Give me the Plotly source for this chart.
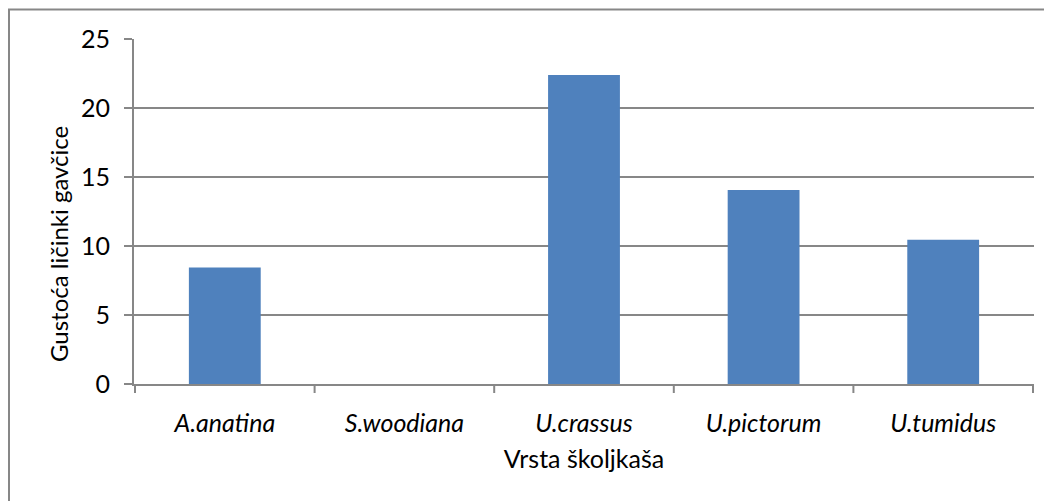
import plotly.graph_objects as go

species = ["A.anatina", "S.woodiana", "U.crassus", "U.pictorum", "U.tumidus"]
density = [8.45, 0, 22.4, 14.05, 10.45]
y_ticks = [0, 5, 10, 15, 20, 25]

FONT = "Lato, 'Open Sans', sans-serif"
GRID = "#878787"
FS = 25

# the page body has an 8px margin, so the figure is laid out 8px smaller
W, H = 1044, 493
L, T, PW, PH = 126, 31, 900, 345

fig = go.Figure(go.Bar(
    x=species,
    y=density,
    width=0.4,
    marker=dict(color="#4F81BD", line=dict(width=0)),
))

fig.update_layout(
    width=W, height=H,
    margin=dict(l=L, r=W - L - PW, t=T, b=H - T - PH),
    paper_bgcolor="white",
    plot_bgcolor="white",
    font=dict(family=FONT, size=FS, color="black"),
    showlegend=False,
    xaxis=dict(
        tickmode="array",
        tickvals=species,
        ticktext=[f"<i>{s}</i>" for s in species],
        tickfont=dict(size=FS),
        showline=True, linecolor=GRID, linewidth=2,
        ticks="outside", ticklen=16, tickcolor="rgba(0,0,0,0)",
        showgrid=False,
        title=dict(text="Vrsta školjkaša", standoff=14, font=dict(size=FS)),
    ),
    yaxis=dict(
        range=[0, 25],
        tickvals=y_ticks,
        tickfont=dict(size=FS),
        ticklabelstandoff=9,
        showgrid=True, gridcolor=GRID, gridwidth=2,
        showline=True, linecolor=GRID, linewidth=2,
        ticks="outside", ticklen=8, tickcolor=GRID, tickwidth=2,
        zeroline=False,
    ),
)

# y axis title, placed like the original (sits a bit below the plot centre)
fig.add_annotation(
    text="Gustoća ličinki gavčice",
    xref="paper", yref="paper",
    x=(50 - L) / PW, y=(T + PH - 236) / PH,
    textangle=-90, showarrow=False,
    font=dict(size=24),
    xanchor="center", yanchor="middle",
)

# category boundary ticks below the x axis
for k in range(len(species) + 1):
    fig.add_shape(
        type="line", xref="x", yref="paper",
        x0=k - 0.5, x1=k - 0.5, y0=0, y1=-9 / PH,
        line=dict(color=GRID, width=2),
    )

# outer chart border (right and bottom edges run off the picture)
fig.add_shape(
    type="rect", xref="paper", yref="paper",
    x0=(1 - L) / PW, x1=(W + 10 - L) / PW,
    y0=(T + PH - (H + 10)) / PH, y1=(T + PH - 1.5) / PH,
    line=dict(color=GRID, width=2), fillcolor="rgba(0,0,0,0)",
    layer="below",
)

fig.write_html("out.html")
